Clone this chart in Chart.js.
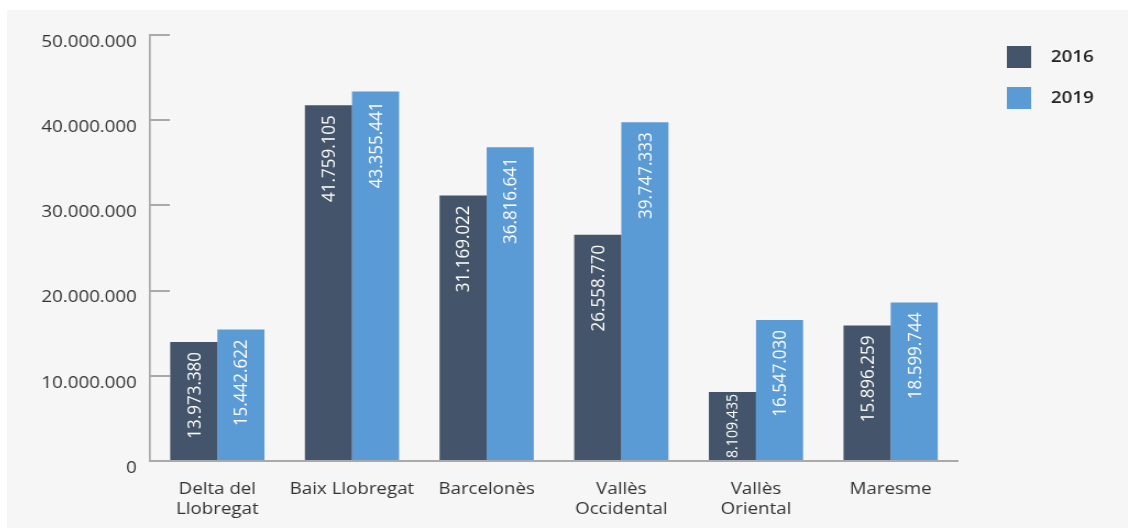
<!DOCTYPE html>
<html>
<head>
<meta charset="utf-8">
<script src="https://cdn.jsdelivr.net/npm/chart.js@4/dist/chart.umd.min.js"></script>
<style>
  html, body { margin: 0; padding: 0; background: #fff; overflow: hidden; }
  #panel { position: absolute; left: 7px; top: 10px; width: 1121px; height: 518px; background: #f6f6f6; }
  /* the drawing is widened a little horizontally */
  #wrap { width: 1019px; height: 518px; transform: scaleX(1.1); transform-origin: 0 0; }
  canvas { display: block; }
</style>
</head>
<body>
<div id="panel"><div id="wrap"><canvas id="chart" width="1019" height="518"></canvas></div></div>
<script>
const comarques = [['Delta del', 'Llobregat'], 'Baix Llobregat', 'Barcelonès', ['Vallès', 'Occidental'], ['Vallès', 'Oriental'], 'Maresme'];
const anys = ['2016', '2019'];
const valors2016 = [13973380, 41759105, 31169022, 26558770, 8109435, 15896259];
const valors2019 = [15442622, 43355441, 36816641, 39747333, 16547030, 18599744];
const colors = ['#44546a', '#5b9bd5'];

const FONT = "'Open Sans', sans-serif";
const AXIS_GRAY = '#a9a9a9';

function fmt(n) {
  return String(Math.round(n)).replace(/\B(?=(\d{3})+(?!\d))/g, '.');
}

// vertical white value labels, hanging from the top of each bar
const barLabels = {
  id: 'barLabels',
  afterDatasetsDraw(chart) {
    const ctx = chart.ctx;
    ctx.save();
    ctx.fillStyle = '#ffffff';
    ctx.textAlign = 'right';
    ctx.textBaseline = 'middle';
    chart.data.datasets.forEach((ds, di) => {
      chart.getDatasetMeta(di).data.forEach((bar, i) => {
        const txt = fmt(ds.data[i]);
        const h = bar.base - bar.y;
        let size = 17;
        ctx.font = size + 'px ' + FONT;
        let w = ctx.measureText(txt).width;
        if (w > h - 4) {
          size = size * (h - 4) / w;
          ctx.font = size + 'px ' + FONT;
          w = ctx.measureText(txt).width;
        }
        const pad = Math.min(10, Math.max(2, (h - w) / 2));
        ctx.save();
        ctx.translate(bar.x + 1, bar.y + pad);
        ctx.rotate(-Math.PI / 2);
        ctx.fillText(txt, 0, 0);
        ctx.restore();
      });
    });
    ctx.restore();
  }
};

// legend in the top-right corner
const sideLegend = {
  id: 'sideLegend',
  afterDraw(chart) {
    const ctx = chart.ctx;
    const x = chart.chartArea.right + 44.5;
    ctx.save();
    ctx.font = '600 17px ' + FONT;
    ctx.textBaseline = 'middle';
    ctx.textAlign = 'left';
    chart.data.datasets.forEach((ds, i) => {
      const y = 36 + i * 41;
      ctx.fillStyle = ds.backgroundColor;
      ctx.fillRect(x, y, 22, 22);
      ctx.fillStyle = '#222';
      ctx.fillText(ds.label, x + 40, y + 11);
    });
    ctx.restore();
  }
};

new Chart(document.getElementById('chart'), {
  type: 'bar',
  data: {
    labels: comarques,
    datasets: [
      { label: anys[0], data: valors2016, backgroundColor: colors[0] },
      { label: anys[1], data: valors2019, backgroundColor: colors[1] }
    ]
  },
  options: {
    responsive: false,
    animation: false,
    layout: { padding: { left: 0, top: 25, right: 154.5, bottom: 0 } },
    datasets: { bar: { categoryPercentage: 0.7, barPercentage: 1.0 } },
    plugins: { legend: { display: false }, tooltip: { enabled: false } },
    scales: {
      x: {
        afterFit(scale) { scale.height = 67; },
        grid: { display: true, drawOnChartArea: false, drawTicks: false },
        border: { color: AXIS_GRAY, width: 2 },
        ticks: { color: '#333', padding: 18, font: { family: FONT, size: 17 }, maxRotation: 0 }
      },
      y: {
        min: 0,
        max: 50000000,
        afterFit(scale) {
          scale.width = 130;
          scale.paddingTop = 0;
          scale.paddingBottom = 0;
        },
        grid: { drawOnChartArea: false, drawTicks: true, tickLength: -18, color: AXIS_GRAY, lineWidth: 2 },
        border: { color: AXIS_GRAY, width: 1.7 },
        ticks: {
          stepSize: 10000000,
          color: '#333',
          padding: 30,
          labelOffset: 7,
          font: { family: FONT, size: 17 },
          callback: v => fmt(v)
        }
      }
    }
  },
  plugins: [barLabels, sideLegend]
});
</script>
</body>
</html>
